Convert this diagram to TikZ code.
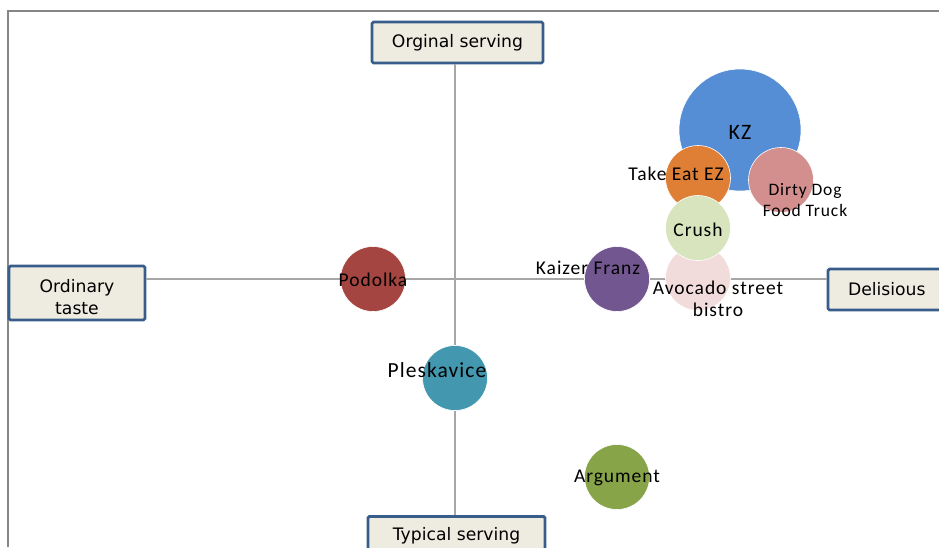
\documentclass[tikz,border=0pt]{standalone}
\usepackage{fontspec}
\setmainfont{DejaVu Sans}
\newfontfamily\calib[LetterSpace=5]{Carlito}
\begin{document}
\begin{tikzpicture}[x=1pt,y=-1pt,
  axisbox/.style={draw=boxblue,line width=2.8pt,fill=boxfill,rounded corners=1.5pt,font=\fontsize{17.2}{20}\selectfont,align=center,inner sep=0pt},
  boxtext/.style={font=\fontsize{17.2}{22.5}\selectfont,align=center,inner sep=0pt},
  bubble/.style={circle,inner sep=0pt,draw=white,line width=0.6pt},
  blab/.style={font=\calib\fontsize{19.5}{21}\selectfont,align=center,inner sep=0pt},
  axisline/.style={draw=axisgray,line width=1.3pt}]
\definecolor{boxblue}{HTML}{385D8A}
\definecolor{boxfill}{HTML}{EEECE1}
\definecolor{axisgray}{HTML}{A6A6A6}
\definecolor{framegray}{HTML}{868686}
\definecolor{ckz}{HTML}{558ED5}
\definecolor{ctake}{HTML}{DF7F36}
\definecolor{cdirty}{HTML}{D38F8D}
\definecolor{ccrush}{HTML}{D7E4BD}
\definecolor{cavo}{HTML}{F2DCDB}
\definecolor{ckaizer}{HTML}{715690}
\definecolor{cpodolka}{HTML}{A54541}
\definecolor{cples}{HTML}{4397AF}
\definecolor{carg}{HTML}{87A449}
\useasboundingbox (0,0) rectangle (939,547);
% frame
\coordinate (fbl) at (8,547);
\coordinate (ftl) at (8,11);
\coordinate (ftr) at (939,11);
\draw[framegray,line width=2pt] (fbl) -- (ftl) -- (ftr);
% axis boxes
\node[axisbox,minimum width=171pt,minimum height=41pt] (top) at (457.5,42.5) {Orginal serving};
\node[axisbox,minimum width=136pt,minimum height=54pt] (left) at (77,293) {};
\node[boxtext] (lefttext) at (77,297) {Ordinary\\taste};
\node[axisbox,minimum width=124pt,minimum height=41pt,text width=110pt,align=left] (right) at (890,289.5) {\hspace*{13pt}Delisious};
\node[axisbox,minimum width=177pt,minimum height=40pt,anchor=north] (bottom) at (456.5,515) {};
\node[boxtext] (bottomtext) at (456.5,536) {Typical serving};
% axes
\path[axisline] (top.south -| 455,0) -- (bottom.north -| 455,0);
\path[axisline] (left.east |- 0,279) -- (right.west |- 0,279);
% bubbles
\node[bubble,fill=ckz,minimum size=122pt] (kz) at (740,130) {};
\node[bubble,fill=ctake,minimum size=65pt] (take) at (698,178) {};
\node[bubble,fill=cdirty,minimum size=65pt] (dirty) at (781,180) {};
\node[bubble,fill=cavo,minimum size=65pt] (avo) at (698,278) {};
\node[bubble,fill=ccrush,minimum size=65pt] (crush) at (698,228) {};
\node[bubble,fill=ckaizer,minimum size=65pt] (kaizer) at (617,279) {};
\node[bubble,fill=cpodolka,minimum size=65pt] (podolka) at (373,279) {};
\node[bubble,fill=cples,minimum size=65pt] (ples) at (455,378) {};
\node[bubble,fill=carg,minimum size=65pt] (arg) at (617,477) {};
% labels
\node[blab,font=\calib\fontsize{22}{22}\selectfont] (lkz) at (740,132) {KZ};
\node[blab] (ltake) at (676,174) {Take Eat EZ};
\node[blab,font=\calib\fontsize{17.5}{21}\selectfont] (ldirty) at (805,200) {Dirty Dog\\Food Truck};
\node[blab] (lcrush) at (698,230) {Crush};
\node[blab,font=\calib\fontsize{19.5}{22}\selectfont] (lavo) at (718,299) {Avocado street\\bistro};
\node[blab] (lkaizer) at (588,268) {Kaizer Franz};
\node[blab] (lpod) at (373,280) {Podolka};
\node[blab,font=\calib\fontsize{21.5}{22}\selectfont] (lples) at (437,370) {Pleskavice};
\node[blab] (larg) at (617,478) {Argument};
\end{tikzpicture}
\end{document}
